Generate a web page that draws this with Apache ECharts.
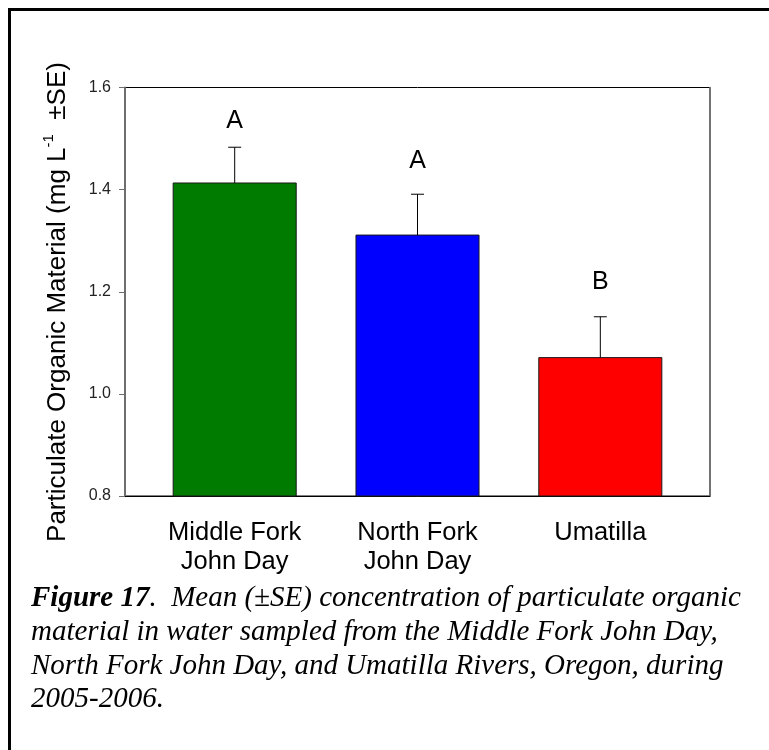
<!DOCTYPE html>
<html>
<head>
<meta charset="utf-8">
<title>Particulate Organic Material</title>
<script src="https://cdn.jsdelivr.net/npm/echarts@6.0.0/dist/echarts.min.js"></script>
<style>
  html, body { margin: 0; padding: 0; background: #fff; }
  #chart { width: 769px; height: 750px; }
</style>
</head>
<body>
<div id="chart"></div>
<script>
// River reaches, mean POM concentration (mg/L), standard errors, and Tukey letters
const categories = ['Middle Fork\nJohn Day', 'North Fork\nJohn Day', 'Umatilla'];
const means = [1.413, 1.311, 1.071];
const errors = [0.070, 0.080, 0.080];
const letters = ['A', 'A', 'B'];
const letterLevels = [1.535, 1.455, 1.219];
const yTicks = [0.8, 1.0, 1.2, 1.4, 1.6];

const barColors = ['#007b00', '#0000ff', '#ff0000'];
const SANS = "'Liberation Sans', Arial, Helvetica, sans-serif";
const SERIF = "'Liberation Serif', 'Times New Roman', serif";
const BAR_UNITS = 0.673;   // bar width in x-axis units
const CAP_PX = 13;         // error-bar cap width

const yMin = yTicks[0];
const yMax = yTicks[yTicks.length - 1];

const seriesData = categories.map((c, i) => [i, means[i], errors[i]]);

const chart = echarts.init(document.getElementById('chart'), null, { renderer: 'canvas' });

chart.setOption({
  animation: false,
  backgroundColor: '#ffffff',
  grid: {
    left: 125, right: 59, top: 87.5, bottom: 254,
    containLabel: false,
    outerBoundsMode: 'none',
    show: true,
    borderColor: '#000',
    borderWidth: 1
  },
  xAxis: {
    type: 'value',
    min: -0.6,
    max: 2.6,
    splitLine: { show: false },
    axisLine: { show: true, onZero: false, lineStyle: { color: '#000', width: 1 } },
    axisTick: { show: false },
    axisLabel: {
      customValues: [0, 1, 2],
      formatter: v => categories[Math.round(v)],
      fontFamily: SANS,
      fontSize: 25.5,
      lineHeight: 29,
      color: '#000',
      margin: 22,
      align: 'center'
    }
  },
  yAxis: [
    {
      type: 'value',
      min: yMin,
      max: yMax,
      interval: 0.2,
      splitLine: { show: false },
      axisLine: { show: true, onZero: false, lineStyle: { color: '#6e6e6e', width: 2 } },
      axisTick: { show: true, length: 6, lineStyle: { color: '#6e6e6e', width: 1 } },
      axisLabel: {
        formatter: v => v.toFixed(1),
        fontFamily: SANS,
        fontSize: 16,
        color: '#222',
        margin: 14
      }
    },
    {
      type: 'value',
      position: 'right',
      min: yMin,
      max: yMax,
      interval: 0.2,
      splitLine: { show: false },
      axisLine: { show: true, onZero: false, lineStyle: { color: '#6e6e6e', width: 1.5 } },
      axisTick: { show: false },
      axisLabel: { show: false }
    }
  ],
  series: [
    {
      type: 'custom',
      data: seriesData,
      clip: false,
      renderItem: function (params, api) {
        const i = params.dataIndex;
        const x = api.value(0);
        const m = api.value(1);
        const se = api.value(2);
        const base = api.coord([x, yMin]);
        const top = api.coord([x, m]);
        const cap = api.coord([x, m + se]);
        const lbl = api.coord([x, letterLevels[i]]);
        const w = api.size([BAR_UNITS, 0])[0];
        return {
          type: 'group',
          children: [
            {
              type: 'rect',
              shape: { x: top[0] - w / 2, y: top[1], width: w, height: base[1] - top[1] },
              style: { fill: barColors[i], stroke: '#1a1a1a', lineWidth: 1 }
            },
            {
              type: 'line',
              shape: { x1: top[0], y1: top[1], x2: cap[0], y2: cap[1] },
              style: { stroke: '#000', lineWidth: 1 }
            },
            {
              type: 'line',
              shape: { x1: cap[0] - CAP_PX / 2, y1: cap[1], x2: cap[0] + CAP_PX / 2, y2: cap[1] },
              style: { stroke: '#000', lineWidth: 1 }
            },
            {
              type: 'text',
              x: lbl[0],
              y: lbl[1],
              style: {
                text: letters[i],
                fill: '#000',
                fontFamily: SANS,
                fontSize: 25,
                align: 'center',
                verticalAlign: 'middle'
              }
            }
          ]
        };
      }
    }
  ],
  graphic: [
    // page frame: left and top rules
    {
      type: 'line',
      shape: { x1: 9.5, y1: 8, x2: 9.5, y2: 750 },
      style: { stroke: '#000', lineWidth: 3 }
    },
    {
      type: 'line',
      shape: { x1: 8, y1: 9.5, x2: 769, y2: 9.5 },
      style: { stroke: '#000', lineWidth: 3 }
    },
    // y-axis title with superscript
    {
      type: 'text',
      x: 56,
      y: 302,
      rotation: Math.PI / 2,
      style: {
        text: '{m|Particulate Organic Material (mg L}{s|-1}{m|  ±SE)}',
        align: 'center',
        verticalAlign: 'middle',
        rich: {
          m: { fontFamily: SANS, fontSize: 26, fill: '#000', lineHeight: 30, verticalAlign: 'bottom' },
          s: { fontFamily: SANS, fontSize: 15, fill: '#000', lineHeight: 30, verticalAlign: 'top' }
        }
      }
    },
    // figure caption
    {
      type: 'text',
      left: 31,
      top: 584,
      style: {
        text: '{b|Figure 17}{i|.  Mean (±SE) concentration of particulate organic}\n' +
              '{i|material in water sampled from the Middle Fork John Day,}\n' +
              '{i|North Fork John Day, and Umatilla Rivers, Oregon, during}\n' +
              '{i|2005-2006.}',
        rich: {
          b: { fontFamily: SERIF, fontSize: 29, fontStyle: 'italic', fontWeight: 'bold', fill: '#000', lineHeight: 33.7 },
          i: { fontFamily: SERIF, fontSize: 29, fontStyle: 'italic', fill: '#000', lineHeight: 33.7 }
        }
      }
    }
  ]
});
</script>
</body>
</html>
